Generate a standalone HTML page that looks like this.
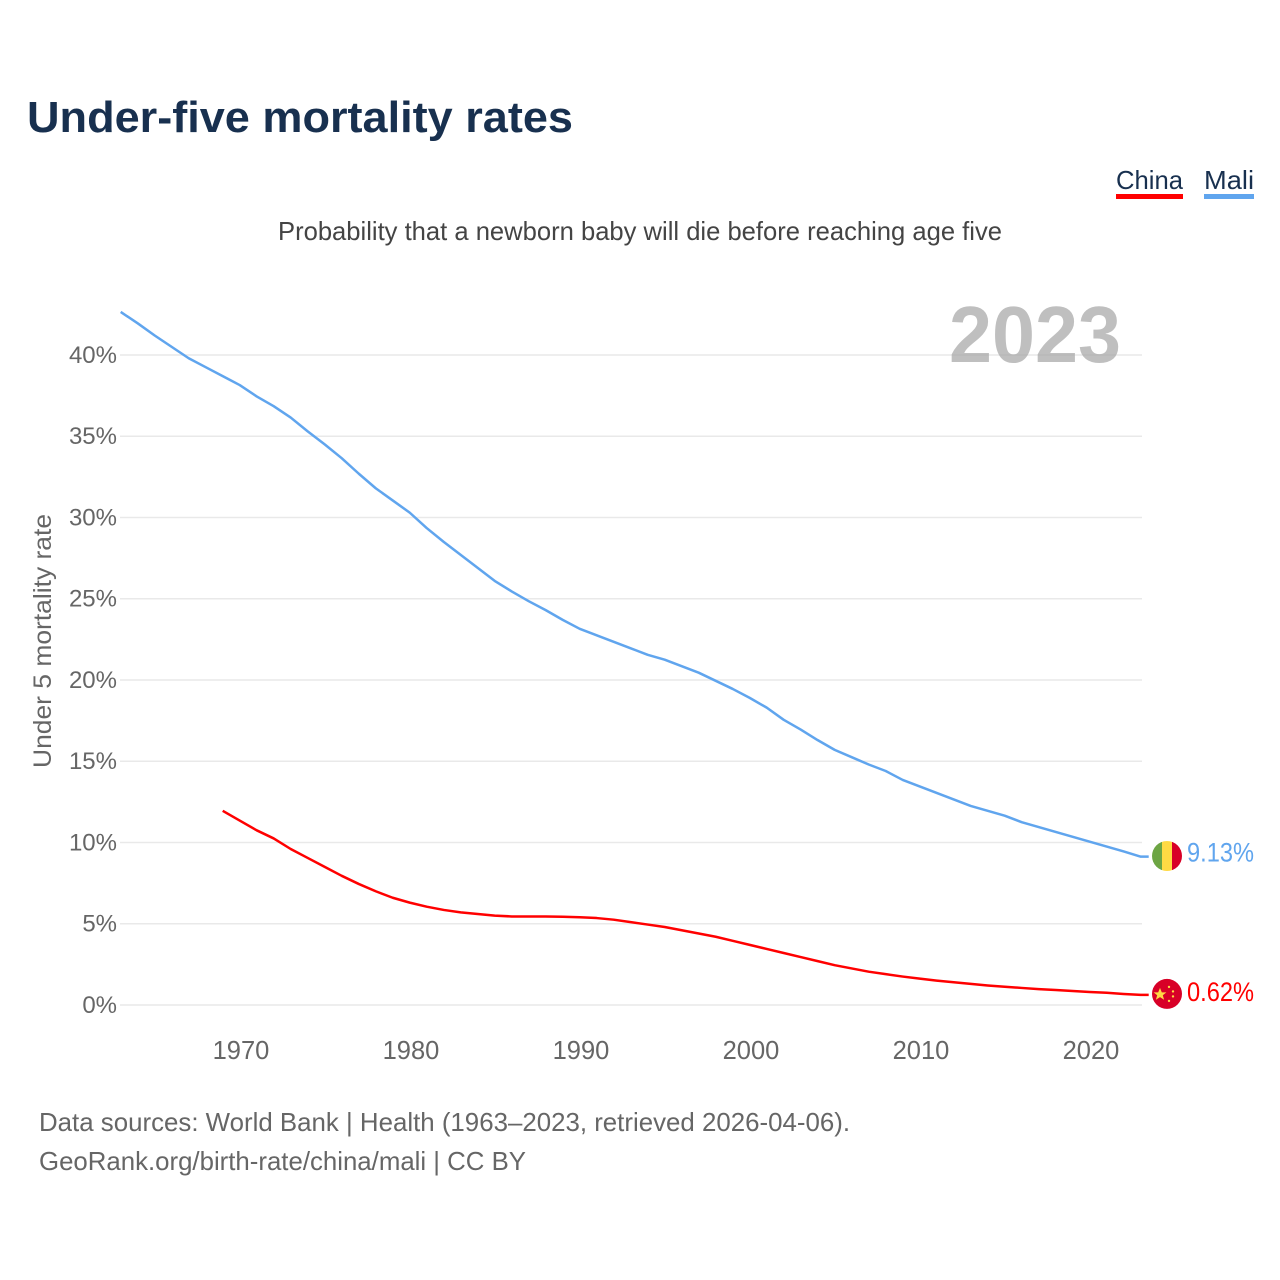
<!DOCTYPE html>
<html lang="en">
<head>
<meta charset="utf-8">
<title>Under-five mortality rates</title>
<style>
html,body{margin:0;padding:0;background:#fff;width:1280px;height:1280px;overflow:hidden}
svg{display:block}
text{font-family:"Liberation Sans",sans-serif}
</style>
</head>
<body>
<svg id="chart" xmlns="http://www.w3.org/2000/svg" width="1280" height="1280" viewBox="0 0 1280 1280">
  <rect x="0" y="0" width="1280" height="1280" fill="#fff"/>
  <text x="27" y="132" font-size="44" font-weight="700" fill="#18304f" textLength="546" lengthAdjust="spacingAndGlyphs">Under-five mortality rates</text>
  <text x="278" y="240" font-size="26" fill="#444" textLength="724" lengthAdjust="spacingAndGlyphs">Probability that a newborn baby will die before reaching age five</text>

  <g id="grid"></g>
  <g id="yticks"></g>
  <g id="xticks"></g>

  <text x="949" y="362" font-size="80" font-weight="700" fill="#a6a6a6" fill-opacity="0.72" textLength="172" lengthAdjust="spacingAndGlyphs">2023</text>

  <text transform="translate(51,641) rotate(-90)" text-anchor="middle" font-size="25" fill="#666" textLength="254" lengthAdjust="spacingAndGlyphs">Under 5 mortality rate</text>

  <path id="line-mali" fill="none" stroke="#60a5ee" stroke-width="2.5" stroke-linejoin="round"/>
  <path id="line-china" fill="none" stroke="#ff0000" stroke-width="2.5" stroke-linejoin="round"/>

  <g>
    <g>
      <text x="1116" y="189" font-size="26" fill="#18304f" textLength="67" lengthAdjust="spacingAndGlyphs">China</text>
      <rect x="1116" y="194" width="67" height="5" fill="#ff0000"/>
    </g>
    <g>
      <text x="1204" y="189" font-size="26" fill="#18304f" textLength="50" lengthAdjust="spacingAndGlyphs">Mali</text>
      <rect x="1204" y="194" width="50" height="5" fill="#60a5ee"/>
    </g>
  </g>

  <defs>
    <clipPath id="clip-mali"><circle id="clip-mali-c" cx="0" cy="0" r="15"/></clipPath>
  </defs>

  <g id="flag-mali">
    <g clip-path="url(#clip-mali)">
      <rect x="-15" y="-15" width="10" height="30" fill="#6da544"/>
      <rect x="-5" y="-15" width="10" height="30" fill="#ffda44"/>
      <rect x="5" y="-15" width="10" height="30" fill="#d80027"/>
    </g>
  </g>
  <g id="flag-china">
    <circle cx="0" cy="0" r="15" fill="#d80027"/>
    <polygon points="-7,-6 -5.2,-1.6 -0.6,-1.6 -4.2,1.3 -2.9,5.8 -7,3.2 -11.1,5.8 -9.8,1.3 -13.4,-1.6 -8.8,-1.6" fill="#ffda44"/>
    <circle cx="2" cy="-7" r="1.2" fill="#ffda44"/>
    <circle cx="6" cy="-2.5" r="1.2" fill="#ffda44"/>
    <circle cx="6" cy="2.5" r="1.2" fill="#ffda44"/>
    <circle cx="2" cy="7" r="1.2" fill="#ffda44"/>
  </g>

  <text id="label-mali" x="1187" font-size="26.5" fill="#60a5ee" textLength="67" lengthAdjust="spacingAndGlyphs"></text>
  <text id="label-china" x="1187" font-size="26.5" fill="#ff0000" textLength="67" lengthAdjust="spacingAndGlyphs"></text>

  <text x="39" y="1131" font-size="26" fill="#666" textLength="811" lengthAdjust="spacingAndGlyphs">Data sources: World Bank | Health (1963–2023, retrieved 2026-04-06).</text>
  <text x="39" y="1170" font-size="26" fill="#666" textLength="487" lengthAdjust="spacingAndGlyphs">GeoRank.org/birth-rate/china/mali | CC BY</text>
</svg>
<script>
const yTickValues = [0, 5, 10, 15, 20, 25, 30, 35, 40];
const xTickYears = [1970, 1980, 1990, 2000, 2010, 2020];
const maliStartYear = 1963;
const chinaStartYear = 1969;
const maliValues = [
  42.65, 41.95, 41.2, 40.5, 39.8, 39.25, 38.7, 38.15, 37.45, 36.85,
  36.15, 35.3, 34.5, 33.65, 32.7, 31.8, 31.05, 30.3, 29.35, 28.5,
  27.7, 26.9, 26.1, 25.45, 24.85, 24.3, 23.7, 23.15, 22.75, 22.35,
  21.95, 21.55, 21.25, 20.85, 20.45, 19.95, 19.45, 18.9, 18.3, 17.55,
  16.95, 16.3, 15.7, 15.25, 14.8, 14.4, 13.85, 13.45, 13.05, 12.65,
  12.25, 11.95, 11.65, 11.25, 10.95, 10.65, 10.35, 10.05, 9.75, 9.45,
  9.13
];
const chinaValues = [
  11.95, 11.35, 10.75, 10.25, 9.6, 9.05, 8.5, 7.95, 7.45, 7.0,
  6.6, 6.3, 6.05, 5.85, 5.7, 5.6, 5.5, 5.45, 5.45, 5.45,
  5.43, 5.4, 5.35, 5.25, 5.1, 4.95, 4.8, 4.6, 4.4, 4.2,
  3.95, 3.7, 3.45, 3.2, 2.95, 2.7, 2.45, 2.25, 2.05, 1.9,
  1.75, 1.62, 1.5, 1.4, 1.3, 1.2, 1.12, 1.05, 0.98, 0.92,
  0.86, 0.8, 0.75, 0.68, 0.62
];

const NS = 'http://www.w3.org/2000/svg';
function xScale(year) { return 120.7 + (year - 1963) * 17; }
function yScale(v) { return 1005 - v * 16.25; }

const gridGroup = document.getElementById('grid');
const yTickGroup = document.getElementById('yticks');
const xTickGroup = document.getElementById('xticks');

yTickValues.forEach(function (v) {
  const line = document.createElementNS(NS, 'line');
  line.setAttribute('x1', 120);
  line.setAttribute('x2', 1142);
  line.setAttribute('y1', yScale(v));
  line.setAttribute('y2', yScale(v));
  line.setAttribute('stroke', '#e9e9e9');
  line.setAttribute('stroke-width', '1.5');
  
  
  gridGroup.appendChild(line);

  const label = document.createElementNS(NS, 'text');
  label.setAttribute('x', 117);
  label.setAttribute('y', yScale(v) + 7.8);
  label.setAttribute('text-anchor', 'end');
  label.setAttribute('font-size', '24');
  label.setAttribute('fill', '#666');
  label.textContent = v + '%';
  
  
  yTickGroup.appendChild(label);
});

xTickYears.forEach(function (year) {
  const label = document.createElementNS(NS, 'text');
  label.setAttribute('x', xScale(year) + 1.3);
  label.setAttribute('y', 1059);
  label.setAttribute('text-anchor', 'middle');
  label.setAttribute('font-size', '25.5');
  label.setAttribute('fill', '#666');
  label.textContent = String(year);
  
  
  xTickGroup.appendChild(label);
});

function linePath(values, startYear) {
  let d = '';
  values.forEach(function (v, i) {
    d += (i === 0 ? 'M' : 'L') + xScale(startYear + i) + ' ' + yScale(v).toFixed(2) + ' ';
  });
  const last = values[values.length - 1];
  d += 'L' + (xScale(startYear + values.length - 1) + 8) + ' ' + yScale(last).toFixed(2);
  return d;
}

function endY(values) { return yScale(values[values.length - 1]); }

document.getElementById('line-mali').setAttribute('d', linePath(maliValues, maliStartYear));
document.getElementById('line-china').setAttribute('d', linePath(chinaValues, chinaStartYear));

const flagX = xScale(2023) + 26.3;
document.getElementById('flag-mali').setAttribute('transform', 'translate(' + flagX + ',' + (endY(maliValues) - 0.6) + ')');
document.getElementById('flag-china').setAttribute('transform', 'translate(' + flagX + ',' + (endY(chinaValues) - 1) + ')');

const maliLabel = document.getElementById('label-mali');
maliLabel.setAttribute('y', endY(maliValues) + 5);
maliLabel.textContent = maliValues[maliValues.length - 1].toFixed(2) + '%';
const chinaLabel = document.getElementById('label-china');
chinaLabel.setAttribute('y', endY(chinaValues) + 6);
chinaLabel.textContent = chinaValues[chinaValues.length - 1].toFixed(2) + '%';
</script>
</body>
</html>
